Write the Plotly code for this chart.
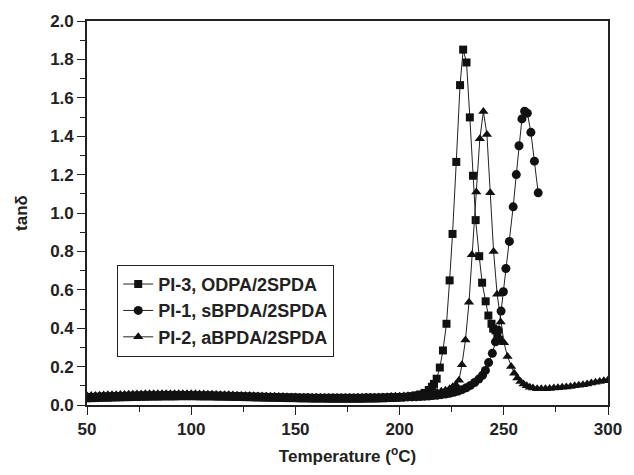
import plotly.graph_objects as go

# ---------------- data ----------------
# common baseline temperature grid (°C), 50 ... 210 step 2
base_temp = list(range(50, 211, 2))

pi3_base = [0.035, 0.036, 0.036, 0.037, 0.038, 0.038, 0.039, 0.040, 0.040, 0.041,
            0.041, 0.042, 0.042, 0.043, 0.043, 0.044, 0.044, 0.044, 0.045, 0.045,
            0.045, 0.045, 0.046, 0.046, 0.046, 0.046, 0.046, 0.045, 0.045, 0.045,
            0.045, 0.044, 0.044, 0.044, 0.043, 0.043, 0.042, 0.042, 0.041, 0.041,
            0.040, 0.040, 0.039, 0.039, 0.038, 0.038, 0.037, 0.037, 0.036, 0.036,
            0.036, 0.035, 0.035, 0.035, 0.034, 0.034, 0.034, 0.034, 0.033, 0.033,
            0.033, 0.033, 0.033, 0.033, 0.033, 0.033, 0.033, 0.034, 0.034, 0.034,
            0.035, 0.035, 0.036, 0.037, 0.038, 0.039, 0.041, 0.043, 0.046, 0.050,
            0.055]
pi3_peak_temp = [212, 214, 215.5, 216.5, 217.8, 219.3, 220.8, 222.5, 224.0, 225.4,
                 227.2, 229.0, 230.5, 232.1, 233.7, 235.2, 236.5, 238.2, 239.6, 241.3,
                 242.6, 244.1, 244.9, 246.0, 246.9, 247.8]
pi3_peak_val = [0.063, 0.078, 0.095, 0.110, 0.137, 0.195, 0.284, 0.423, 0.649, 0.891,
                1.266, 1.666, 1.851, 1.784, 1.498, 1.194, 0.963, 0.775, 0.637, 0.540,
                0.466, 0.423, 0.398, 0.389, 0.363, 0.340]

pi1_base = [0.040, 0.041, 0.042, 0.043, 0.044, 0.044, 0.045, 0.046, 0.046, 0.047,
            0.047, 0.048, 0.048, 0.049, 0.049, 0.050, 0.050, 0.050, 0.051, 0.051,
            0.051, 0.051, 0.051, 0.051, 0.051, 0.051, 0.050, 0.050, 0.050, 0.049,
            0.049, 0.048, 0.048, 0.047, 0.047, 0.046, 0.046, 0.045, 0.044, 0.044,
            0.043, 0.043, 0.042, 0.042, 0.041, 0.041, 0.040, 0.040, 0.039, 0.039,
            0.039, 0.038, 0.038, 0.038, 0.037, 0.037, 0.037, 0.037, 0.037, 0.037,
            0.037, 0.037, 0.037, 0.037, 0.037, 0.037, 0.037, 0.038, 0.038, 0.038,
            0.038, 0.039, 0.039, 0.040, 0.040, 0.041, 0.041, 0.042, 0.042, 0.043,
            0.044]
pi1_peak_temp = [212, 214, 216, 218, 220, 222, 224, 226, 228, 230,
                 232, 234, 236, 238, 239.8, 241.2, 242.7, 244.5, 246.0, 247.4,
                 248.7, 249.8, 251.0, 252.7, 254.5, 256.0, 257.3, 258.7, 260.0, 261.3,
                 263.0, 264.7, 266.5]
pi1_peak_val = [0.045, 0.047, 0.049, 0.051, 0.054, 0.057, 0.061, 0.066, 0.072, 0.080,
                0.090, 0.102, 0.117, 0.135, 0.155, 0.180, 0.221, 0.269, 0.329, 0.389,
                0.489, 0.590, 0.711, 0.852, 1.032, 1.200, 1.350, 1.490, 1.530, 1.520,
                1.420, 1.270, 1.105]

pi2_base = [0.048, 0.049, 0.050, 0.051, 0.052, 0.053, 0.054, 0.054, 0.055, 0.055,
            0.056, 0.056, 0.057, 0.057, 0.058, 0.058, 0.058, 0.058, 0.059, 0.059,
            0.059, 0.059, 0.059, 0.059, 0.058, 0.058, 0.058, 0.057, 0.057, 0.056,
            0.056, 0.055, 0.054, 0.054, 0.053, 0.052, 0.051, 0.050, 0.050, 0.049,
            0.048, 0.047, 0.047, 0.046, 0.045, 0.045, 0.044, 0.043, 0.043, 0.042,
            0.042, 0.041, 0.041, 0.040, 0.040, 0.040, 0.039, 0.039, 0.039, 0.039,
            0.039, 0.039, 0.039, 0.039, 0.039, 0.040, 0.040, 0.040, 0.041, 0.041,
            0.042, 0.042, 0.043, 0.044, 0.045, 0.046, 0.047, 0.048, 0.050, 0.052,
            0.054]
pi2_peak_temp = [212, 214, 216, 218, 220, 222, 224, 225.5, 227, 228.5,
                 229.9, 231.6, 233.3, 234.7, 236.8, 238.5, 240.2, 241.9, 243.5, 245.1,
                 246.8, 248.5, 250.1, 251.8, 253.5, 255, 256.5, 258, 259.5, 261,
                 262.5, 264, 266, 268, 270, 272, 274, 276, 278, 280,
                 282, 284, 286, 288, 290, 292, 294, 296, 298, 300]
pi2_peak_val = [0.056, 0.059, 0.062, 0.066, 0.071, 0.077, 0.085, 0.095, 0.105, 0.129,
                0.209, 0.338, 0.535, 0.783, 1.110, 1.387, 1.529, 1.409, 1.105, 0.800,
                0.577, 0.432, 0.324, 0.252, 0.200, 0.165, 0.140, 0.122, 0.110, 0.100,
                0.093, 0.088, 0.085, 0.084, 0.085, 0.086, 0.088, 0.090, 0.092, 0.094,
                0.097, 0.100, 0.103, 0.106, 0.110, 0.114, 0.118, 0.122, 0.126, 0.130]

series = [
    ("PI-3, ODPA/2SPDA", base_temp + pi3_peak_temp, pi3_base + pi3_peak_val, "square", 8),
    ("PI-1, sBPDA/2SPDA", base_temp + pi1_peak_temp, pi1_base + pi1_peak_val, "circle", 9),
    ("PI-2, aBPDA/2SPDA", base_temp + pi2_peak_temp, pi2_base + pi2_peak_val, "triangle-up", 9),
]

FONT = "Liberation Sans, Arial, Helvetica, sans-serif"

fig = go.Figure()
for name, x, y, sym, sz in series:
    fig.add_trace(go.Scatter(
        x=x, y=y, name=name, mode="lines+markers",
        line=dict(color="#222222", width=1),
        marker=dict(symbol=sym, size=sz, color="#111111", line=dict(width=0)),
    ))

axis_common = dict(
    showline=True, linecolor="#222222", linewidth=1.6, mirror=True,
    ticks="outside", ticklen=8, tickwidth=1.4, tickcolor="#222222",
    showgrid=False, zeroline=False,
    tickfont=dict(family=FONT, size=17, color="#222222", weight="bold"),
)

fig.update_xaxes(
    range=[50, 300], tickvals=[50, 100, 150, 200, 250, 300],
    minor=dict(ticks="outside", ticklen=5, tickwidth=1.2, tickcolor="#222222", dtick=25),
    title=dict(text="Temperature (<sup>o</sup>C)", standoff=12,
               font=dict(family=FONT, size=17, color="#222222", weight="bold")),
    **axis_common,
)
fig.update_yaxes(
    range=[0, 2.0], dtick=0.2, tickformat=".1f",
    minor=dict(ticks="outside", ticklen=5, tickwidth=1.2, tickcolor="#222222", dtick=0.1),
    title=dict(text="tanδ", standoff=18,
               font=dict(family=FONT, size=17, color="#222222", weight="bold")),
    **axis_common,
)

fig.update_layout(
    width=634, height=475,
    margin=dict(l=87, r=15, t=20, b=66),
    paper_bgcolor="white", plot_bgcolor="white",
    showlegend=True,
    legend=dict(
        x=0.058, y=0.365, xanchor="left", yanchor="top",
        bordercolor="#222222", borderwidth=1, bgcolor="white",
        font=dict(family=FONT, size=18, color="#222222", weight="bold"),
        itemwidth=30, tracegroupgap=0,
    ),
)

fig.write_html("out.html")
